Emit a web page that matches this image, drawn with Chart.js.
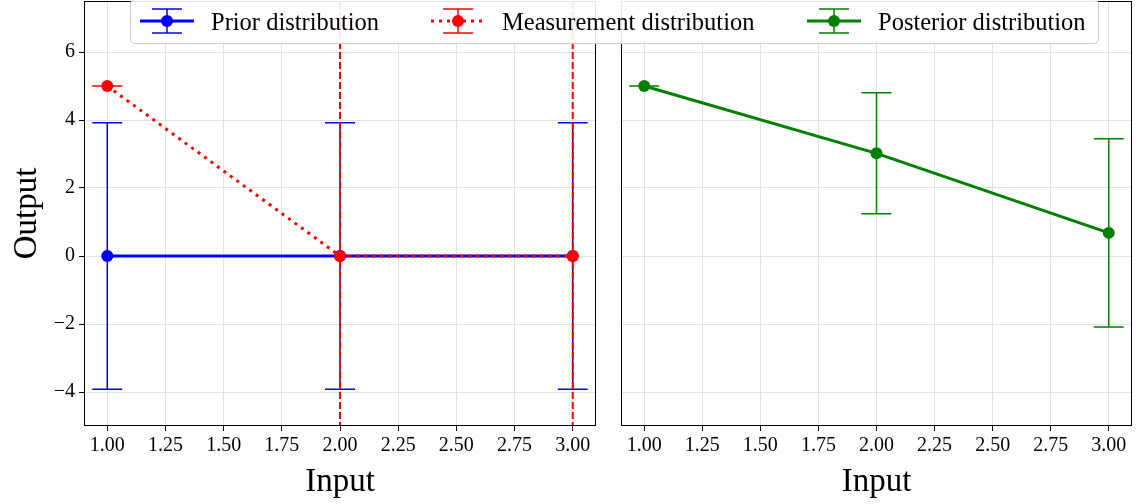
<!DOCTYPE html>
<html>
<head>
<meta charset="utf-8">
<script src="https://cdn.jsdelivr.net/npm/chart.js@4"></script>
<style>
  body { margin: 0; background: #fff; }
  #wrap { position: relative; width: 1136px; height: 504px; font-family: 'Liberation Serif', serif; }
  .panel { position: absolute; top: 0; }
  #legend {
    position: absolute; left: 130px; top: -1px; width: 967px; height: 43px;
    background: rgba(255,255,255,0.9); border: 1px solid #cccccc; border-radius: 5px;
    z-index: 2;
  }
  .item { position: absolute; top: 0; height: 44px; display: flex; align-items: center; }
  .item span { font-size: 24.5px; margin-left: 17px; color: #000; white-space: nowrap; }
</style>
</head>
<body>
<div id="wrap">
  <div class="panel" style="left:0"><canvas id="left" width="600" height="504"></canvas></div>
  <div class="panel" style="left:600px"><canvas id="right" width="536" height="504"></canvas></div>
  <div id="legend"></div>
</div>
<script>
// ── data ────────────────────────────────────────
const xs = [1, 2, 3];
const priorMean = [0, 0, 0];
const priorErr = [3.92, 3.92, 3.92];
const measMean = [5, 0, 0];
const measErr = [0, 1000, 1000];   // practically unbounded at x = 2, 3
const postMean = [5, 3.02, 0.68];
const postErr = [0, 1.78, 2.77];
const xTicks = [1, 1.25, 1.5, 1.75, 2, 2.25, 2.5, 2.75, 3];
const yTicks = [-4, -2, 0, 2, 4, 6];

const BLUE = '#0000ff', RED = '#ff0000', GREEN = '#008000';
const GRID = '#e3e3e3';

Chart.defaults.font.family = "'Liberation Serif', serif";
Chart.defaults.color = '#000';

const pts = (ys) => xs.map((x, i) => ({ x, y: ys[i] }));

// vertical error bars with caps, drawn just under each dataset's line
const errorBars = {
  id: 'errorBars',
  beforeDatasetDraw(chart, args) {
    const ds = chart.data.datasets[args.index];
    if (!ds.errors) return;
    const { ctx, chartArea: a, scales: { x, y } } = chart;
    const cap = 15;
    ctx.save();
    ctx.beginPath();
    ctx.rect(a.left, a.top, a.right - a.left, a.bottom - a.top);
    ctx.clip();
    ctx.strokeStyle = ds.borderColor;
    ds.data.forEach((p, i) => {
      const e = ds.errors[i];
      const px = x.getPixelForValue(p.x);
      const top = y.getPixelForValue(p.y + e);
      const bot = y.getPixelForValue(p.y - e);
      ctx.lineWidth = ds.errorWidth || 1.5;
      ctx.setLineDash(ds.errorDash || []);
      ctx.beginPath(); ctx.moveTo(px, top); ctx.lineTo(px, bot); ctx.stroke();
      ctx.setLineDash([]);
      ctx.lineWidth = 1.5;
      ctx.beginPath();
      ctx.moveTo(px - cap, top); ctx.lineTo(px + cap, top);
      ctx.moveTo(px - cap, bot); ctx.lineTo(px + cap, bot);
      ctx.stroke();
    });
    ctx.restore();
  }
};

const frame = {
  id: 'frame',
  afterDraw(chart) {
    const { ctx, chartArea: a } = chart;
    ctx.save();
    ctx.strokeStyle = '#000'; ctx.lineWidth = 1;
    ctx.strokeRect(Math.round(a.left) + 0.5, Math.round(a.top) + 0.5,
      Math.round(a.right - a.left) - 1, Math.round(a.bottom - a.top) - 1);
    ctx.restore();
  }
};

function lineSet(label, ys, errs, color, extra) {
  return Object.assign({
    label, data: pts(ys), errors: errs, showLine: true,
    borderColor: color, backgroundColor: color, borderWidth: 3,
    pointRadius: 6, pointHoverRadius: 6, pointBorderWidth: 0, pointBackgroundColor: color,
  }, extra);
}

function makeOptions(showYLabels, yWidth) {
  return {
    responsive: false, animation: false,
    layout: { autoPadding: false, padding: { top: 1, right: 4, left: 0, bottom: 0 } },
    plugins: { legend: { display: false }, tooltip: { enabled: false } },
    scales: {
      x: {
        type: 'linear', min: 0.9, max: 3.1,
        afterBuildTicks: (s) => { s.ticks = xTicks.map(v => ({ value: v })); },
        afterFit: (s) => { s.height = 78; s.paddingLeft = 0; s.paddingRight = 0; },
        grid: { color: GRID, tickColor: '#000', tickLength: 5 },
        border: { display: false },
        ticks: { font: { size: 20 }, padding: 3, maxRotation: 0, callback: v => Number(v).toFixed(2) },
        title: { display: true, text: 'Input', font: { size: 33 }, padding: { top: 0, bottom: 2 } },
      },
      y: {
        type: 'linear', min: -5, max: 7.5,
        afterBuildTicks: (s) => { s.ticks = yTicks.map(v => ({ value: v })); },
        afterFit: (s) => { s.width = yWidth; s.paddingTop = 0; s.paddingBottom = 0; },
        grid: { color: GRID, tickColor: '#000', tickLength: 5, drawTicks: showYLabels },
        border: { display: false },
        ticks: {
          display: showYLabels, font: { size: 20 }, padding: 4,
          callback: v => v < 0 ? '\u2212' + Math.abs(v) : String(v),
        },
        title: { display: showYLabels, text: 'Output', font: { size: 33 }, padding: { top: 8 } },
      },
    },
  };
}

new Chart(document.getElementById('left'), {
  type: 'scatter',
  data: {
    datasets: [
      lineSet('Measurement distribution', measMean, measErr, RED,
        { borderDash: [3, 5], errorDash: [7, 3], errorWidth: 2, order: 1 }),
      lineSet('Prior distribution', priorMean, priorErr, BLUE, { order: 2 }),
    ],
  },
  options: makeOptions(true, 84),
  plugins: [errorBars, frame],
});

new Chart(document.getElementById('right'), {
  type: 'scatter',
  data: {
    datasets: [lineSet('Posterior distribution', postMean, postErr, GREEN, {})],
  },
  options: makeOptions(false, 21),
  plugins: [errorBars, frame],
});

// legend spanning both panels
const legendItems = [
  { label: 'Prior distribution', color: BLUE, dash: '', left: 9 },
  { label: 'Measurement distribution', color: RED, dash: '3 5', left: 300 },
  { label: 'Posterior distribution', color: GREEN, dash: '', left: 676 },
];
const legend = document.getElementById('legend');
legendItems.forEach(it => {
  const el = document.createElement('div');
  el.className = 'item';
  el.style.left = it.left + 'px';
  el.innerHTML =
    `<svg width="54" height="44" viewBox="0 0 54 44">
      <line x1="0" y1="21" x2="54" y2="21" stroke="${it.color}" stroke-width="3" stroke-dasharray="${it.dash}"/>
      <line x1="27" y1="9" x2="27" y2="33" stroke="${it.color}" stroke-width="1.5"/>
      <line x1="12" y1="9" x2="42" y2="9" stroke="${it.color}" stroke-width="1.5"/>
      <line x1="12" y1="33" x2="42" y2="33" stroke="${it.color}" stroke-width="1.5"/>
      <circle cx="27" cy="21" r="6" fill="${it.color}"/>
    </svg><span>${it.label}</span>`;
  legend.appendChild(el);
});
</script>
</body>
</html>
